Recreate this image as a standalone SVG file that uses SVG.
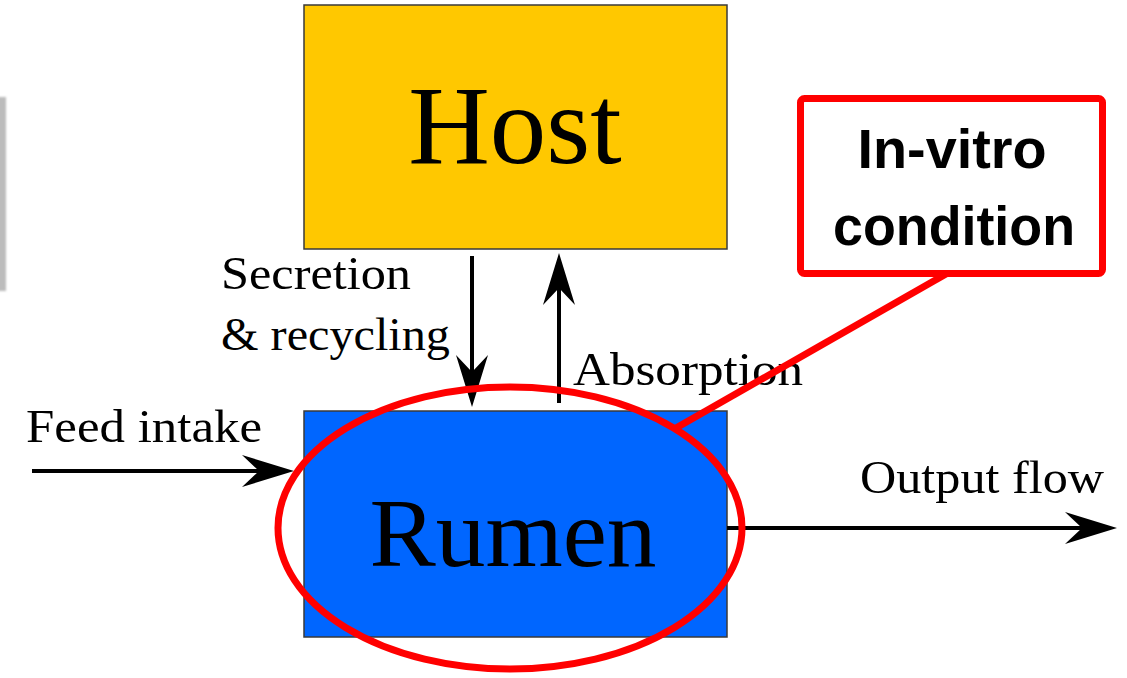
<svg xmlns="http://www.w3.org/2000/svg" width="1127" height="678" viewBox="0 0 1127 678">
  <style>
    .box { stroke: #3a3a3a; stroke-width: 1.5; }
    .big { font-family: "Liberation Serif", "DejaVu Serif", serif; fill: #000; text-anchor: middle; }
    .lbl { font-family: "Liberation Serif", "DejaVu Serif", serif; font-size: 46px; fill: #000; }
    .flow { stroke: #000; stroke-width: 4; fill: none; marker-end: url(#head); }
    .mark { stroke: #ff0000; stroke-width: 7; fill: none; }
    .note { font-family: "Liberation Sans", Arial, sans-serif; font-weight: bold; font-size: 56px; fill: #000; text-anchor: middle; }
  </style>
  <defs>
    <!-- concave arrowhead; reference point sits on the notch so the shaft ends inside it -->
    <marker id="head" viewBox="0 0 52 32" refX="17" refY="16" markerWidth="52" markerHeight="32" markerUnits="userSpaceOnUse" orient="auto">
      <path d="M0,0 L52,16 L0,32 L17,16 Z" fill="#000"/>
    </marker>
    <filter id="soft" x="-1" y="-0.1" width="3" height="1.2">
      <feGaussianBlur stdDeviation="0.8"/>
    </filter>
  </defs>

  <rect width="1127" height="678" fill="#fff"/>

  <!-- thin grey strip at the left margin -->
  <rect x="-2" y="97" width="8" height="194" fill="#bcbcbc" filter="url(#soft)"/>

  <g id="host">
    <rect class="box" x="304" y="5" width="423" height="244" fill="#ffc800"/>
    <text class="big" x="515" y="163" font-size="113">Host</text>
  </g>

  <g id="rumen">
    <rect class="box" x="304" y="411" width="423" height="226" fill="#0066ff"/>
    <text class="big" x="513" y="566" font-size="97" textLength="287" lengthAdjust="spacingAndGlyphs">Rumen</text>
  </g>

  <g id="labels">
    <text class="lbl" x="221" y="289" textLength="190" lengthAdjust="spacingAndGlyphs">Secretion</text>
    <text class="lbl" x="221" y="350" textLength="229" lengthAdjust="spacingAndGlyphs">&amp; recycling</text>
    <text class="lbl" x="573" y="385" textLength="230" lengthAdjust="spacingAndGlyphs">Absorption</text>
    <text class="lbl" x="26" y="442" textLength="236" lengthAdjust="spacingAndGlyphs">Feed intake</text>
    <text class="lbl" x="860" y="493" textLength="244" lengthAdjust="spacingAndGlyphs">Output flow</text>
  </g>

  <g id="connectors">
    <line class="flow" x1="32" y1="471" x2="259" y2="471"/>
    <line class="flow" x1="472" y1="256" x2="472" y2="372"/>
    <line class="flow" x1="559" y1="403" x2="559" y2="288" stroke-width="5"/>
    <line class="flow" x1="727" y1="528" x2="1082" y2="528"/>
  </g>

  <g id="highlight">
    <ellipse class="mark" cx="510" cy="528" rx="232" ry="141" stroke-width="8"/>
  </g>

  <g id="callout">
    <line class="mark" x1="946" y1="274" x2="676" y2="428"/>
    <rect class="mark" x="800.5" y="98.5" width="302" height="175" rx="4" fill="#fff"/>
    <text class="note" x="952" y="168" textLength="189" lengthAdjust="spacingAndGlyphs">In-vitro</text>
    <text class="note" x="954" y="245" textLength="242" lengthAdjust="spacingAndGlyphs">condition</text>
  </g>
</svg>
